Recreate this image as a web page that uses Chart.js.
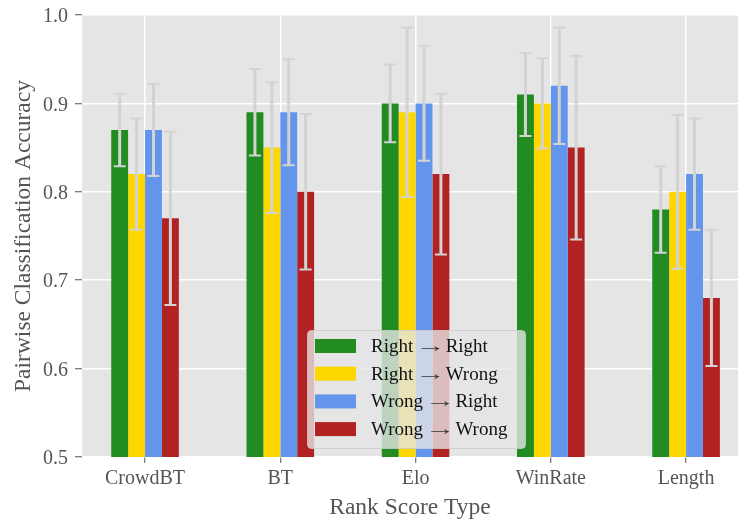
<!DOCTYPE html>
<html>
<head>
<meta charset="utf-8">
<script src="https://cdn.jsdelivr.net/npm/chart.js@4.4.1/dist/chart.umd.min.js"></script>
<style>
  html, body { margin: 0; padding: 0; background: #fff; }
  canvas { display: block; }
</style>
</head>
<body>
<canvas id="c" width="738" height="521"></canvas>
<script>
// Rank score types on the x axis
const categories = ['CrowdBT', 'BT', 'Elo', 'WinRate', 'Length'];

// Series labels
const seriesLabels = ['Right \u2192 Right', 'Right \u2192 Wrong', 'Wrong \u2192 Right', 'Wrong \u2192 Wrong'];

// Mean pairwise accuracy per series
const rightRight = [0.87, 0.89, 0.90, 0.91, 0.78];
const rightWrong = [0.82, 0.85, 0.89, 0.90, 0.80];
const wrongRight = [0.87, 0.89, 0.90, 0.92, 0.82];
const wrongWrong = [0.77, 0.80, 0.82, 0.85, 0.68];

// Symmetric error (half-width) per bar
const rightRightErr = [0.041, 0.049, 0.044, 0.047, 0.049];
const rightWrongErr = [0.063, 0.074, 0.096, 0.051, 0.087];
const wrongRightErr = [0.052, 0.060, 0.065, 0.066, 0.063];
const wrongWrongErr = [0.098, 0.088, 0.091, 0.104, 0.077];

// Y tick values
const yTicks = [0.5, 0.6, 0.7, 0.8, 0.9, 1.0];

const seriesColors = ['#228B22', '#FFD700', '#6495ED', '#B22222'];
const seriesValues = [rightRight, rightWrong, wrongRight, wrongWrong];
const seriesErrors = [rightRightErr, rightWrongErr, wrongRightErr, wrongWrongErr];

const FONT = "'Liberation Serif', 'Times New Roman', serif";
const TEXT_GREY = '#555555';

const datasets = seriesValues.map((vals, s) => ({
  label: seriesLabels[s],
  data: vals.map((v, i) => ({ x: i, y: v })),
  errors: seriesErrors[s],
  backgroundColor: seriesColors[s],
  borderWidth: 0,
  categoryPercentage: 0.5,
  barPercentage: 1.0
}));

// Grey panel behind the plot
const panelBackground = {
  id: 'panelBackground',
  beforeDraw(chart) {
    const { ctx, chartArea: a } = chart;
    ctx.save();
    ctx.fillStyle = '#e5e5e5';
    ctx.fillRect(a.left, a.top, a.right - a.left, a.bottom - a.top);
    ctx.restore();
  }
};

// Error bars with caps, drawn on top of the bars
const errorBars = {
  id: 'errorBars',
  afterDatasetsDraw(chart) {
    const { ctx, chartArea: a } = chart;
    const yScale = chart.scales.y;
    ctx.save();
    ctx.beginPath();
    ctx.rect(a.left, a.top, a.right - a.left, a.bottom - a.top);
    ctx.clip();
    ctx.strokeStyle = '#d3d3d3';
    chart.data.datasets.forEach((ds, di) => {
      const meta = chart.getDatasetMeta(di);
      meta.data.forEach((bar, i) => {
        const v = ds.data[i].y;
        const e = ds.errors[i];
        const yTop = yScale.getPixelForValue(v + e);
        const yBot = yScale.getPixelForValue(v - e);
        const x = bar.x;
        ctx.lineWidth = 3;
        ctx.beginPath();
        ctx.moveTo(x, yTop);
        ctx.lineTo(x, yBot);
        ctx.stroke();
        ctx.lineWidth = 2;
        ctx.beginPath();
        ctx.moveTo(x - 6, yTop);
        ctx.lineTo(x + 6, yTop);
        ctx.moveTo(x - 6, yBot);
        ctx.lineTo(x + 6, yBot);
        ctx.stroke();
      });
    });
    ctx.restore();
  }
};

// Legend box placed inside the plot, lower middle
const insideLegend = {
  id: 'insideLegend',
  afterDraw(chart) {
    const { ctx } = chart;
    const box = { x: 307, y: 330, w: 218, h: 118 };
    ctx.save();
    ctx.beginPath();
    ctx.roundRect(box.x + 0.5, box.y + 0.5, box.w, box.h, 4);
    ctx.fillStyle = 'rgba(229,229,229,0.8)';
    ctx.fill();
    ctx.strokeStyle = 'rgba(204,204,204,0.8)';
    ctx.lineWidth = 1;
    ctx.stroke();
    ctx.textBaseline = 'middle';
    ctx.textAlign = 'left';
    ctx.font = "19px " + FONT;
    const arrowStretch = 1.6; // long, thin arrow between the two words
    chart.data.datasets.forEach((ds, i) => {
      const cy = box.y + 16 + i * 27.7;
      ctx.fillStyle = ds.backgroundColor;
      ctx.fillRect(box.x + 8, cy - 7, 41, 14);
      ctx.fillStyle = '#111';
      const [from, to] = ds.label.split('\u2192').map(s => s.trim());
      let x = box.x + 64;
      ctx.fillText(from, x, cy + 1);
      x += ctx.measureText(from).width + 2;
      ctx.save();
      ctx.translate(x, cy + 1);
      ctx.scale(arrowStretch, 1);
      ctx.fillStyle = '#333';
      ctx.fillText('\u2192', 0, 0);
      ctx.restore();
      x += ctx.measureText('\u2192').width * arrowStretch;
      ctx.fillText(to, x, cy + 1);
    });
    ctx.restore();
  }
};

new Chart(document.getElementById('c'), {
  type: 'bar',
  data: { datasets },
  options: {
    responsive: false,
    animation: false,
    devicePixelRatio: 1,
    layout: { padding: { top: 15, left: 0, right: 0, bottom: 0 } },
    plugins: {
      legend: { display: false },
      tooltip: { enabled: false }
    },
    scales: {
      x: {
        type: 'linear',
        min: -0.466,
        max: 4.384,
        offset: false,
        afterBuildTicks(scale) {
          scale.ticks = categories.map((_, i) => ({ value: i }));
        },
        afterFit(scale) { scale.height = 64; },
        border: { display: false },
        grid: {
          offset: false,
          color: '#ffffff',
          lineWidth: 1.5,
          tickColor: TEXT_GREY,
          tickLength: 6,
          tickWidth: 1
        },
        ticks: {
          color: TEXT_GREY,
          font: { family: FONT, size: 20, lineHeight: 1.2 },
          padding: 4,
          maxRotation: 0,
          callback: (v) => categories[v]
        },
        title: {
          display: true,
          text: 'Rank Score Type',
          color: TEXT_GREY,
          font: { family: FONT, size: 23.5, lineHeight: 1.1 },
          padding: { top: 0, bottom: 0 }
        }
      },
      y: {
        min: 0.5,
        max: 1.0,
        afterBuildTicks(scale) {
          scale.ticks = yTicks.map(v => ({ value: v }));
        },
        afterFit(scale) { scale.width = 82; },
        border: { display: false },
        grid: {
          color: '#ffffff',
          lineWidth: 1.5,
          tickColor: TEXT_GREY,
          tickLength: 7,
          tickWidth: 1
        },
        ticks: {
          color: TEXT_GREY,
          font: { family: FONT, size: 20, lineHeight: 0.75 },
          padding: 7,
          labelOffset: 2,
          callback: (v) => Number(v).toFixed(1)
        },
        title: {
          display: true,
          text: 'Pairwise Classification Accuracy',
          color: TEXT_GREY,
          font: { family: FONT, size: 23.5, lineHeight: 1.2 },
          padding: { top: 10, bottom: 0 }
        }
      }
    }
  },
  plugins: [panelBackground, errorBars, insideLegend]
});
</script>
</body>
</html>
